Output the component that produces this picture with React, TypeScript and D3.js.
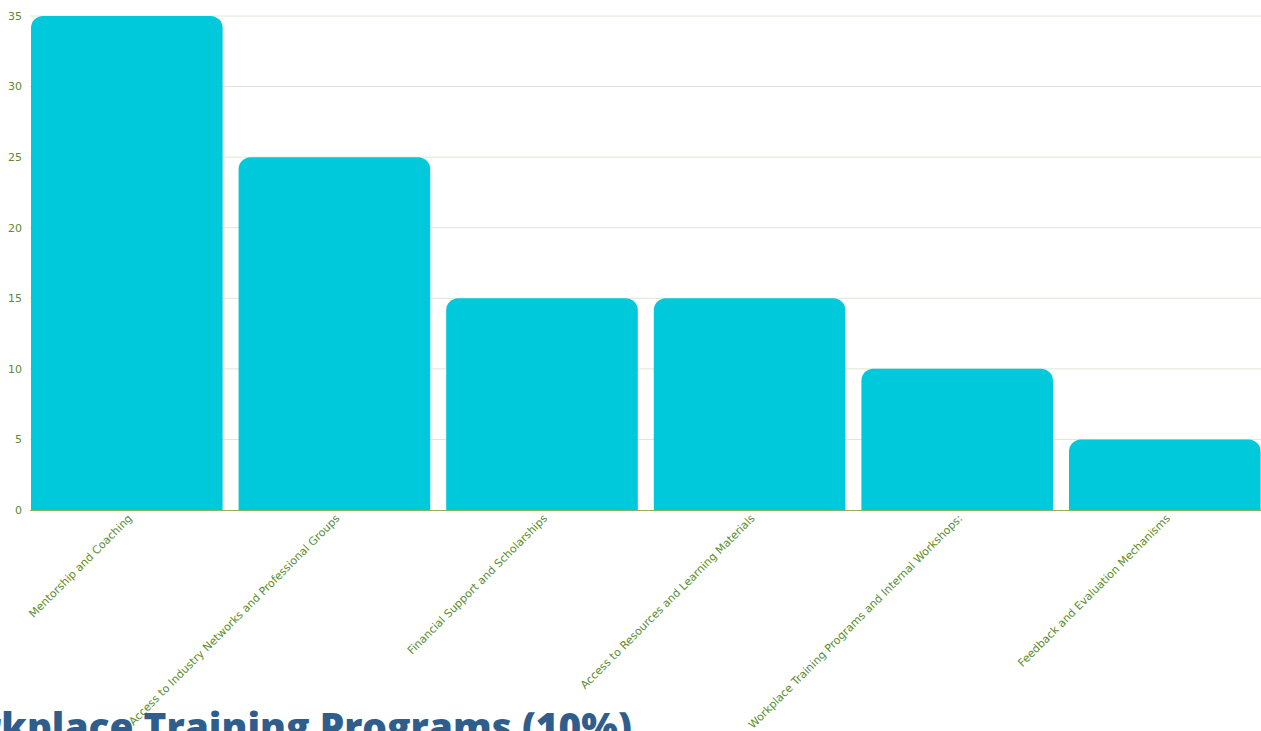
import React from "react";
import * as d3 from "d3";

const categories = [
  "Mentorship and Coaching",
  "Access to Industry Networks and Professional Groups",
  "Financial Support and Scholarships",
  "Access to Resources and Learning Materials",
  "Workplace Training Programs and Internal Workshops:",
  "Feedback and Evaluation Mechanisms",
];
const values = [35, 25, 15, 15, 10, 5];
const yTicks = [0, 5, 10, 15, 20, 25, 30, 35];
const titleText = "Workplace Training Programs (10%)";

const W = 1261;
const H = 731;
const BAR = "#00c9db";
const LABEL = "#5b8c2e";

export default function App() {
  const x = d3.scaleBand<string>().domain(categories).range([31, 1260.6]).paddingInner(0.077).paddingOuter(0);
  const y = d3.scaleLinear().domain([0, 35]).range([510, 16]);
  const r = 12;
  const barPath = (c: string, v: number) => {
    const x0 = x(c)!;
    const w = x.bandwidth();
    const y0 = y(v);
    const yb = y(0);
    const p = d3.path();
    p.moveTo(x0, yb);
    p.lineTo(x0, y0 + r);
    p.arcTo(x0, y0, x0 + r, y0, r);
    p.lineTo(x0 + w - r, y0);
    p.arcTo(x0 + w, y0, x0 + w, y0 + r, r);
    p.lineTo(x0 + w, yb);
    p.closePath();
    return p.toString();
  };
  return (
    <svg width={W} height={H} style={{ position: "absolute", left: 0, top: 0, background: "#fff" }}>
      {yTicks.map((t) => (
        <g key={t}>
          {t > 0 && <line x1={30} x2={W} y1={y(t)} y2={y(t)} stroke="#dfe6d5" strokeWidth={1} />}
          <text x={22} y={y(t)} dy="0.35em" textAnchor="end" fontSize={11} fill={LABEL} fontFamily="'DejaVu Sans', sans-serif">
            {t}
          </text>
        </g>
      ))}
      <line x1={30} x2={W} y1={y(0) + 0.5} y2={y(0) + 0.5} stroke="#8db35f" strokeWidth={1} />
      {categories.map((c, i) => (
        <path key={c} d={barPath(c, values[i])} fill={BAR} />
      ))}
      {categories.map((c) => {
        const cx = x(c)! + x.bandwidth() / 2 + 6;
        const cy = 519;
        return (
          <text
            key={c}
            x={cx}
            y={cy}
            textAnchor="end"
            fontSize={11}
            fill={LABEL}
            fontFamily="'DejaVu Sans', sans-serif"
            transform={`rotate(-45 ${cx} ${cy})`}
          >
            {c}
          </text>
        );
      })}
      <text x={632} y={741} textAnchor="end" fontSize={38.8} fontWeight={800} fill="#2f5d8c" fontFamily="'Open Sans', sans-serif">
        {titleText}
      </text>
    </svg>
  );
}
